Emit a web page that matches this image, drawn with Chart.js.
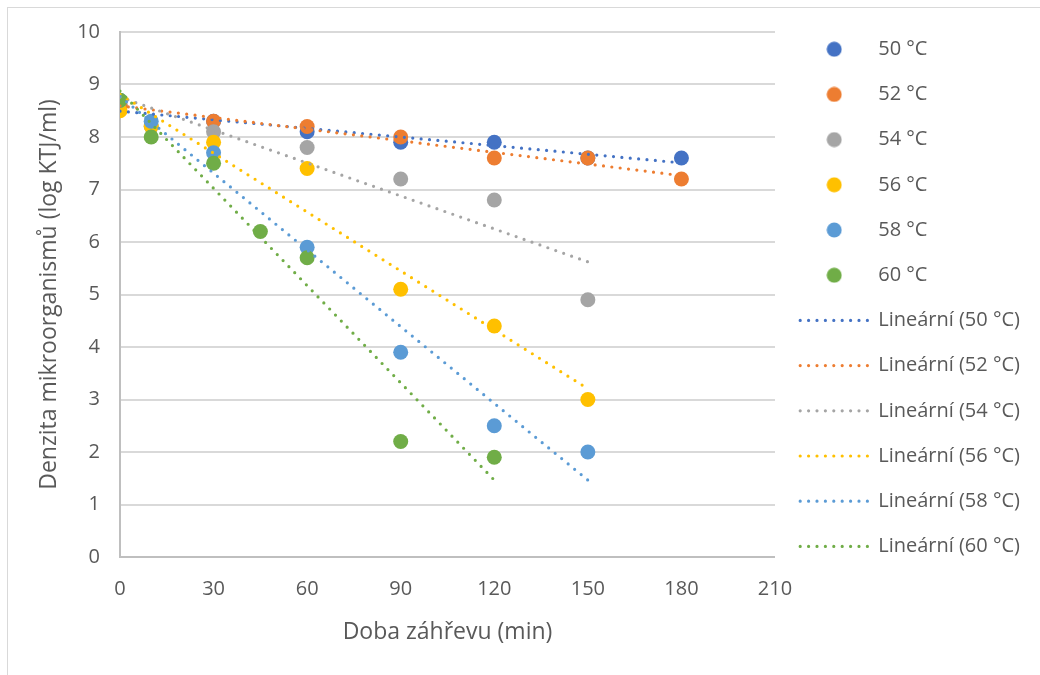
<!DOCTYPE html>
<html lang="cs">
<head>
<meta charset="utf-8">
<title>Denzita mikroorganismů</title>
<script src="https://cdn.jsdelivr.net/npm/chart.js@4.4.1/dist/chart.umd.min.js"></script>
<style>
  html, body { margin: 0; padding: 0; background: #fff; overflow: hidden; }
  #ramecek { position: absolute; left: 7px; top: 7px; width: 1100px; height: 700px; border: 1px solid #d9d9d9; }
  #obal { position: absolute; left: 0; top: 0; width: 1040px; height: 675px; }
</style>
</head>
<body>
<div id="ramecek"></div>
<div id="obal"><canvas id="myScatterChart" width="1040" height="675"></canvas></div>
<script>
// série (teplota) a barvy
const nazvy = ['50 °C', '52 °C', '54 °C', '56 °C', '58 °C', '60 °C'];
const barvy = ['#4472C4', '#ED7D31', '#A5A5A5', '#FFC000', '#5B9BD5', '#70AD47'];

// doba záhřevu (min) a denzita (log KTJ/ml)
const cas50 = [0, 30, 60, 90, 120, 150, 180];
const hodnoty50 = [8.6, 8.3, 8.1, 7.9, 7.9, 7.6, 7.6];
const cas52 = [0, 30, 60, 90, 120, 150, 180];
const hodnoty52 = [8.6, 8.3, 8.2, 8.0, 7.6, 7.6, 7.2];
const cas54 = [0, 10, 30, 60, 90, 120, 150];
const hodnoty54 = [8.7, 8.2, 8.1, 7.8, 7.2, 6.8, 4.9];
const cas56 = [0, 10, 30, 60, 90, 120, 150];
const hodnoty56 = [8.5, 8.2, 7.9, 7.4, 5.1, 4.4, 3.0];
const cas58 = [0, 10, 30, 60, 90, 120, 150];
const hodnoty58 = [8.7, 8.3, 7.7, 5.9, 3.9, 2.5, 2.0];
const cas60 = [0, 10, 30, 45, 60, 90, 120];
const hodnoty60 = [8.7, 8.0, 7.5, 6.2, 5.7, 2.2, 1.9];

// osy
const xTicks = [0, 30, 60, 90, 120, 150, 180, 210];
const yTicks = [0, 1, 2, 3, 4, 5, 6, 7, 8, 9, 10];

const casy = [cas50, cas52, cas54, cas56, cas58, cas60];
const hodnoty = [hodnoty50, hodnoty52, hodnoty54, hodnoty56, hodnoty58, hodnoty60];

// lineární trend (nejmenší čtverce) přes rozsah dat série
function linearniTrend(xs, ys) {
  const n = xs.length;
  let sx = 0, sy = 0;
  for (let i = 0; i < n; i++) { sx += xs[i]; sy += ys[i]; }
  const mx = sx / n, my = sy / n;
  let sxy = 0, sxx = 0;
  for (let i = 0; i < n; i++) {
    sxy += (xs[i] - mx) * (ys[i] - my);
    sxx += (xs[i] - mx) * (xs[i] - mx);
  }
  const k = sxy / sxx;
  const q = my - k * mx;
  const x0 = Math.min.apply(null, xs);
  const x1 = Math.max.apply(null, xs);
  return [{ x: x0, y: q + k * x0 }, { x: x1, y: q + k * x1 }];
}

// kolečko do legendy (aby se nenatáhlo na šířku čáry)
function kolecko(barva) {
  const c = document.createElement('canvas');
  c.width = 16; c.height = 16;
  const g = c.getContext('2d');
  g.fillStyle = barva;
  g.beginPath();
  g.arc(8, 8, 7.5, 0, Math.PI * 2);
  g.fill();
  return c;
}

const datasets = [];
for (let i = 0; i < nazvy.length; i++) {
  datasets.push({
    label: nazvy[i],
    data: casy[i].map(function(x, j) { return { x: x, y: hodnoty[i][j] }; }),
    backgroundColor: barvy[i],
    borderColor: barvy[i],
    pointRadius: 7.5,
    pointHoverRadius: 7.5,
    pointBorderWidth: 0,
    showLine: false,
    order: 20 - i
  });
}
for (let i = 0; i < nazvy.length; i++) {
  datasets.push({
    label: 'Lineární (' + nazvy[i] + ')',
    trend: true,
    data: linearniTrend(casy[i], hodnoty[i]),
    borderColor: barvy[i],
    backgroundColor: barvy[i],
    borderWidth: 3.2,
    borderDash: [0, 8.4],
    borderCapStyle: 'round',
    pointRadius: 0,
    pointHitRadius: 0,
    showLine: true,
    fill: false,
    order: 10 - i
  });
}

Chart.defaults.font.family = "'Open Sans', 'Noto Sans', sans-serif";
Chart.defaults.font.size = 20;
Chart.defaults.color = '#595959';

var ctx = document.getElementById('myScatterChart').getContext('2d');
var myScatterChart = new Chart(ctx, {
  type: 'scatter',
  data: { datasets: datasets },
  options: {
    responsive: false,
    animation: false,
    devicePixelRatio: 1,
    layout: { padding: { left: 0, top: 14, right: 10, bottom: 18 } },
    scales: {
      x: {
        type: 'linear',
        min: xTicks[0],
        max: xTicks[xTicks.length - 1],
        afterBuildTicks: function(scale) { scale.ticks = xTicks.map(function(v) { return { value: v }; }); },
        afterFit: function(scale) { scale.height = 100; },
        grid: { display: false, drawTicks: false },
        border: { display: true, color: '#bfbfbf', width: 2 },
        ticks: { padding: 20, color: '#595959' },
        title: { display: true, text: 'Doba záhřevu (min)', color: '#595959', font: { size: 23 }, padding: { top: 0, bottom: 11 } }
      },
      y: {
        type: 'linear',
        min: yTicks[0],
        max: yTicks[yTicks.length - 1],
        afterBuildTicks: function(scale) { scale.ticks = yTicks.map(function(v) { return { value: v }; }); },
        afterFit: function(scale) { scale.width = 120; },
        grid: { color: '#d9d9d9', lineWidth: 2, drawTicks: false },
        border: { display: true, color: '#bfbfbf', width: 2 },
        ticks: { padding: 20, color: '#595959' },
        title: { display: true, text: 'Denzita mikroorganismů (log KTJ/ml)', color: '#595959', font: { size: 23 }, padding: { top: 36, bottom: 0 } }
      }
    },
    plugins: {
      // prázdný titulek jen odsune graf dolů
      title: { display: true, text: '', padding: 0, font: { size: 18, lineHeight: 1 } },
      tooltip: { enabled: false },
      legend: {
        position: 'right',
        align: 'start',
        labels: {
          usePointStyle: true,
          pointStyleWidth: 68,
          boxHeight: 10.6,
          padding: 25.2,
          color: '#595959',
          font: { size: 20 },
          generateLabels: function(chart) {
            return chart.data.datasets.map(function(ds, i) {
              return {
                text: ds.label,
                datasetIndex: i,
                hidden: false,
                fillStyle: ds.trend ? 'rgba(0,0,0,0)' : ds.backgroundColor,
                strokeStyle: ds.borderColor,
                lineWidth: ds.trend ? 3.2 : 0,
                lineDash: ds.trend ? [0, 8.4] : [],
                lineCap: 'round',
                pointStyle: ds.trend ? 'line' : kolecko(ds.backgroundColor),
                fontColor: '#595959'
              };
            });
          }
        }
      }
    }
  }
});
</script>
</body>
</html>
